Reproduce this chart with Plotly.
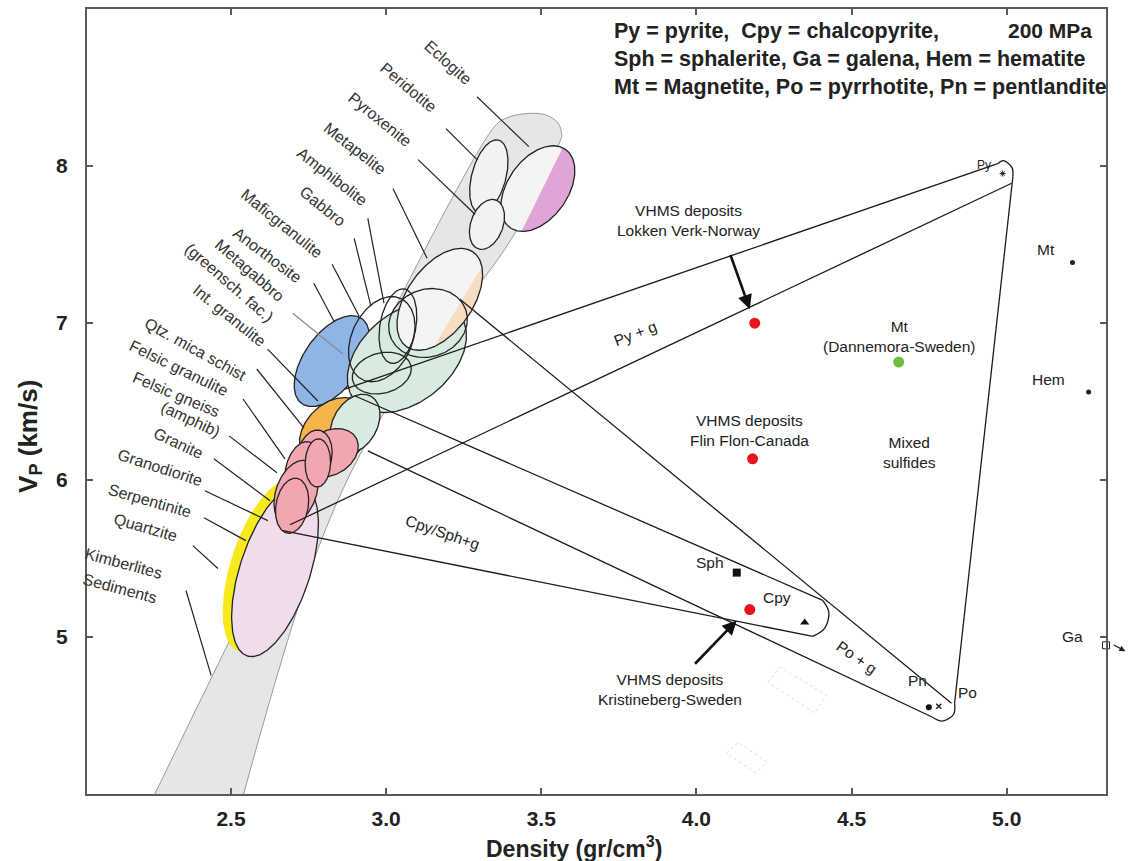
import numpy as np
import plotly.graph_objects as go

# ---------------- axes ----------------
X_RANGE = [2.036, 5.32]
Y_RANGE = [4.0, 9.0]
X_TICKS = [2.5, 3.0, 3.5, 4.0, 4.5, 5.0]
X_TICK_TEXT = ["2.5", "3.0", "3.5", "4.0", "4.5", "5.0"]
Y_TICKS = [5, 6, 7, 8]
Y_TICK_TEXT = ["5", "6", "7", "8"]

VP_PER_RHO = 1.97  # visual aspect used to draw ellipses

# ---------------- crustal / mantle rock trend band ----------------
BAND_RHO = [2.230, 3.344, 3.382, 3.447, 3.512, 3.553, 3.566, 3.560, 3.415, 3.260, 2.997, 2.797, 2.527]
BAND_VP = [3.9, 8.238, 8.301, 8.333, 8.327, 8.276, 8.200, 8.155, 7.571, 7.139, 6.440, 5.646, 3.9]

# ---------------- rock fields (ellipses) ----------------
ROCK_FIELD = ["Quartzite", "Serpentinite", "Anorthosite", "Int. granulite", "Mafic granulite",
              "Metagabbro", "Metapelite", "Eclogite", "Peridotite", "Pyroxenite",
              "Amphibolite", "Gabbro", "Gabbro2", "Mafic2",
              "Qtz. mica schist", "Felsic granulite", "Felsic gneiss", "Granodiorite", "Granite", "Felsic2"]
ROCK_RHO = [2.613, 2.642, 2.825, 2.835, 3.067,
            2.900, 3.173, 3.489, 3.331, 3.325,
            3.038, 3.135, 2.986, 2.986,
            2.819, 2.770, 2.729, 2.710, 2.697, 2.780]
ROCK_VP = [5.455, 5.423, 6.757, 6.300, 6.783,
           6.357, 7.151, 7.856, 7.933, 7.628,
           6.980, 7.000, 6.681, 6.897,
           6.173, 6.154, 6.071, 5.919, 5.836, 6.109]
ROCK_SEMI_MAJOR = [0.290, 0.290, 0.168, 0.129, 0.219,
                   0.103, 0.187, 0.155, 0.122, 0.084,
                   0.122, 0.129, 0.097, 0.145,
                   0.097, 0.084, 0.090, 0.109, 0.090, 0.078]
ROCK_SEMI_MINOR = [0.113, 0.113, 0.090, 0.097, 0.145,
                   0.071, 0.106, 0.097, 0.055, 0.052,
                   0.058, 0.109, 0.065, 0.097,
                   0.071, 0.055, 0.052, 0.065, 0.052, 0.041]
ROCK_TILT = [72, 72, 55, 45, 40,
             60, 55, 55, 75, 70,
             80, 20, 15, 65,
             30, 80, 75, 70, 80, 88]

# coloured parts of fields lying off the trend band (right of the cut line)
CUT_FIELD = ["Eclogite", "Metapelite"]
CUT_RHO0 = [3.566, 3.318]
CUT_VP0 = [8.111, 7.393]
CUT_RHO1 = [3.431, 3.163]
CUT_VP1 = [7.571, 6.884]

# ---------------- mixing lines (rock + sulfide) ----------------
MIX_NAME = ["Py upper", "Py lower", "Py-Po", "Po upper", "Po lower", "Cpy upper", "Cpy lower"]
MIX_RHO0 = [2.867, 2.690, 5.020, 3.238, 2.941, 2.900, 2.667]
MIX_VP0 = [6.579, 5.715, 7.933, 7.151, 6.186, 6.535, 5.677]
MIX_RHO1 = [4.971, 5.016, 4.832, 4.822, 4.761, 4.407, 4.375]
MIX_VP1 = [8.015, 7.890, 4.578, 4.578, 4.489, 5.233, 5.004]

CAP_PY_RHO = [4.971, 4.990, 5.017, 5.020]
CAP_PY_VP = [8.015, 8.034, 7.990, 7.933]
CAP_PO_RHO = [4.832, 4.829, 4.792, 4.761]
CAP_PO_VP = [4.578, 4.508, 4.464, 4.489]
CAP_CPY_RHO = [4.407, 4.427, 4.413, 4.375]
CAP_CPY_VP = [5.233, 5.156, 5.055, 5.004]

# ---------------- minerals ----------------
MINERAL = ["Py", "Mt", "Hem", "Ga", "Sph", "Cpy", "Pn", "Po"]
MINERAL_RHO = [4.987, 5.212, 5.264, 5.320, 4.130, 4.349, 4.749, 4.781]
MINERAL_VP = [7.952, 7.386, 6.560, 4.947, 5.410, 5.093, 4.553, 4.559]

# ---------------- ore deposits ----------------
DEPOSIT = ["Lokken Verk-Norway", "Flin Flon-Canada", "Kristineberg-Sweden", "Dannemora-Sweden"]
DEPOSIT_RHO = [4.188, 4.181, 4.172, 4.652]
DEPOSIT_VP = [6.999, 6.135, 5.175, 6.751]

# ---------------- faint dotted boxes ----------------
BOX1_RHO = [4.230, 4.269, 4.420, 4.381, 4.230]
BOX1_VP = [4.712, 4.807, 4.629, 4.515, 4.712]
BOX2_RHO = [4.097, 4.134, 4.227, 4.191, 4.097]
BOX2_VP = [4.260, 4.330, 4.203, 4.133, 4.260]

# ---------------- rock labels ----------------
LABEL_TEXT = ["Eclogite", "Peridotite", "Pyroxenite", "Metapelite", "Amphibolite", "Gabbro",
              "Maficgranulite", "Anorthosite", "Metagabbro", "(greensch. fac.)", "Int. granulite",
              "Qtz. mica schist", "Felsic granulite", "Felsic gneiss", "(amphib)", "Granite",
              "Granodiorite", "Serpentinite", "Quartzite", "Kimberlites", "Sediments"]
LABEL_RHO = [3.200, 3.073, 2.980, 2.899, 2.825, 2.796, 2.664, 2.619, 2.561, 2.494, 2.494,
             2.387, 2.334, 2.324, 2.371, 2.332, 2.271, 2.236, 2.226, 2.155, 2.142]
LABEL_VP = [8.662, 8.503, 8.295, 8.111, 7.930, 7.743, 7.634, 7.433, 7.335, 7.260, 7.045,
            6.834, 6.712, 6.545, 6.385, 6.230, 6.078, 5.868, 5.696, 5.468, 5.309]
LABEL_ANGLE = [42, 40, 39, 38, 38, 39, 39, 37, 41, 41, 39, 29, 26, 23, 25, 25, 18, 16, 16, 15, 15]

LEADER_RHO0 = [3.293, 3.193, 3.103, 3.022, 2.941, 2.897, 2.826, 2.767, 2.699, 2.618, 2.583,
               2.539, 2.494, 2.445, 2.416, 2.413, 2.377, 2.355]
LEADER_VP0 = [8.441, 8.238, 8.041, 7.856, 7.666, 7.539, 7.374, 7.253, 7.062, 6.834, 6.707,
              6.516, 6.281, 6.135, 5.931, 5.760, 5.582, 5.296]
LEADER_RHO1 = [3.460, 3.293, 3.287, 3.132, 2.993, 2.951, 2.913, 2.832, 2.861, 2.780, 2.735,
               2.674, 2.648, 2.626, 2.619, 2.548, 2.458, 2.436]
LEADER_VP1 = [8.123, 8.041, 7.691, 7.412, 7.126, 7.107, 7.043, 7.011, 6.802, 6.503, 6.332,
              6.135, 6.046, 5.868, 5.741, 5.614, 5.436, 4.756]
LEADER_GREY = [False] * 8 + [True] + [False] * 9

# ---------------- styles ----------------
FONT = "Liberation Sans, Arial, Helvetica, sans-serif"
FIELD_STYLE = {
    "Quartzite": ("#f6ea1e", None),
    "Serpentinite": ("#f1dcee", "#222"),
    "Anorthosite": ("#8fb5e4", "#222"),
    "Int. granulite": ("#f5b44c", "#222"),
    "Mafic granulite": ("#d7ebe1", "#222"),
    "Metagabbro": ("#d7ebe1", "#222"),
    "Metapelite": ("#f4f4f4", "#222"),
    "Eclogite": ("#f4f4f4", "#222"),
    "Peridotite": ("#f2f2f2", "#222"),
    "Pyroxenite": ("#f2f2f2", "#222"),
    "Amphibolite": (None, "#222"),
    "Gabbro": (None, "#222"),
    "Gabbro2": (None, "#222"),
    "Mafic2": (None, "#222"),
    "Qtz. mica schist": ("#f2a6b0", "#222"),
    "Felsic granulite": ("#f2a6b0", "#222"),
    "Felsic gneiss": ("#f2a6b0", "#222"),
    "Granodiorite": ("#f2a6b0", "#222"),
    "Granite": ("#f2a6b0", "#222"),
    "Felsic2": ("#f2a6b0", "#222"),
}
CUT_COLOR = {"Eclogite": "#dfa5d6", "Metapelite": "#f8dcc3"}


def ellipse_pts(cx, cy, a, b, ang, n=240):
    t = np.linspace(0, 2 * np.pi, n)
    th = np.radians(ang)
    u = a * np.cos(t) * np.cos(th) - b * np.sin(t) * np.sin(th)
    w = a * np.cos(t) * np.sin(th) + b * np.sin(t) * np.cos(th)
    return cx + u, cy + VP_PER_RHO * w


def crescent(xs, ys, p0, p1):
    xline = p0[0] + (ys - p0[1]) * (p1[0] - p0[0]) / (p1[1] - p0[1])
    keep = xs > xline
    first_out = int(np.argmin(keep))
    order = np.roll(np.arange(len(xs)), -first_out)
    sel = order[keep[order]]
    return xs[sel], ys[sel]


fig = go.Figure()
LW = 1.3

# band
fig.add_trace(go.Scatter(x=BAND_RHO, y=BAND_VP, mode="lines", fill="toself",
                         fillcolor="#e6e6e6", line=dict(color="#9a9a9a", width=1),
                         line_shape="spline", hoverinfo="skip", showlegend=False))

# rock fields
for i, name in enumerate(ROCK_FIELD):
    xs, ys = ellipse_pts(ROCK_RHO[i], ROCK_VP[i], ROCK_SEMI_MAJOR[i], ROCK_SEMI_MINOR[i], ROCK_TILT[i])
    fill, edge = FIELD_STYLE[name]
    if fill:
        fig.add_trace(go.Scatter(x=xs, y=ys, mode="lines", fill="toself", fillcolor=fill,
                                 line=dict(width=0, color=fill), hoverinfo="skip", showlegend=False))
    if name in CUT_FIELD:
        j = CUT_FIELD.index(name)
        cx, cy = crescent(xs, ys, (CUT_RHO0[j], CUT_VP0[j]), (CUT_RHO1[j], CUT_VP1[j]))
        fig.add_trace(go.Scatter(x=cx, y=cy, mode="lines", fill="toself", fillcolor=CUT_COLOR[name],
                                 line=dict(width=0, color=CUT_COLOR[name]), hoverinfo="skip",
                                 showlegend=False))
    if edge:
        fig.add_trace(go.Scatter(x=xs, y=ys, mode="lines", line=dict(color=edge, width=LW),
                                 hoverinfo="skip", showlegend=False))

# leader lines
for i in range(len(LEADER_RHO0)):
    fig.add_trace(go.Scatter(x=[LEADER_RHO0[i], LEADER_RHO1[i]], y=[LEADER_VP0[i], LEADER_VP1[i]],
                             mode="lines",
                             line=dict(color="#8a8a8a" if LEADER_GREY[i] else "#222", width=1.2),
                             hoverinfo="skip", showlegend=False))

# mixing lines
for i in range(len(MIX_NAME)):
    fig.add_trace(go.Scatter(x=[MIX_RHO0[i], MIX_RHO1[i]], y=[MIX_VP0[i], MIX_VP1[i]], mode="lines",
                             line=dict(color="#1a1a1a", width=LW), hoverinfo="skip", showlegend=False))
for cx, cy in [(CAP_PY_RHO, CAP_PY_VP), (CAP_PO_RHO, CAP_PO_VP), (CAP_CPY_RHO, CAP_CPY_VP)]:
    fig.add_trace(go.Scatter(x=cx, y=cy, mode="lines", line=dict(color="#1a1a1a", width=LW, shape="spline"),
                             hoverinfo="skip", showlegend=False))

# faint boxes
for bx, by in [(BOX1_RHO, BOX1_VP), (BOX2_RHO, BOX2_VP)]:
    fig.add_trace(go.Scatter(x=bx, y=by, mode="lines", line=dict(color="#dddddd", width=1, dash="dot"),
                             hoverinfo="skip", showlegend=False))

# mineral markers
MARKER_STYLE = {
    "Py": dict(symbol="asterisk-open", size=5, color="#222", line=dict(width=1, color="#222")),
    "Mt": dict(symbol="circle", size=5, color="#222"),
    "Hem": dict(symbol="circle", size=5, color="#222"),
    "Ga": dict(symbol="square-open", size=7, color="#222", line=dict(width=1, color="#222")),
    "Sph": dict(symbol="square", size=8, color="#111"),
    "Cpy": dict(symbol="triangle-up", size=8, color="#111"),
    "Pn": dict(symbol="circle", size=6, color="#111"),
    "Po": dict(symbol="x-thin-open", size=5, color="#222", line=dict(width=1.5, color="#222")),
}
for i, m in enumerate(MINERAL):
    fig.add_trace(go.Scatter(x=[MINERAL_RHO[i]], y=[MINERAL_VP[i]], mode="markers",
                             marker=MARKER_STYLE[m], cliponaxis=False, hoverinfo="skip", showlegend=False))

# deposits
DEP_COLOR = ["#e8141c", "#e8141c", "#e8141c", "#6cbf3c"]
fig.add_trace(go.Scatter(x=DEPOSIT_RHO, y=DEPOSIT_VP, mode="markers",
                         marker=dict(size=11, color=DEP_COLOR), hoverinfo="skip", showlegend=False))

ann = []
# rock labels
for i, t in enumerate(LABEL_TEXT):
    ann.append(dict(x=LABEL_RHO[i], y=LABEL_VP[i], text=t, textangle=LABEL_ANGLE[i], showarrow=False,
                    font=dict(size=16, color="#333", family=FONT)))

# notes (data coords)
NOTES = [
    ("VHMS deposits<br>Lokken Verk-Norway", 3.975, 7.653, 0),
    ("Py + g", 3.803, 6.935, -21),
    ("Mt<br>(Dannemora-Sweden)", 4.655, 6.916, 0),
    ("Mt", 5.128, 7.469, 0),
    ("Hem", 5.135, 6.643, 0),
    ("Ga", 5.212, 5.004, 0),
    ("VHMS deposits<br>Flin Flon-Canada", 4.171, 6.313, 0),
    ("Mixed<br>sulfides", 4.687, 6.173, 0),
    ("Cpy/Sph+g", 3.183, 5.665, 19),
    ("Sph", 4.043, 5.474, 0),
    ("Cpy", 4.260, 5.252, 0),
    ("VHMS deposits<br>Kristineberg-Sweden", 3.915, 4.667, 0),
    ("Po + g", 4.517, 4.870, 35),
    ("Pn", 4.711, 4.724, 0),
    ("Po", 4.874, 4.648, 0),
    ("Py", 4.926, 8.009, 0),
]
for t, x, y, a in NOTES:
    ann.append(dict(x=x, y=y, text=t, textangle=a, showarrow=False,
                    font=dict(size=12 if t == "Py" else 15.5, color="#222", family=FONT)))

# arrows
for hx, hy, tx, ty in [(4.172, 7.088, 4.108, 7.443), (4.130, 5.105, 3.991, 4.820)]:
    ann.append(dict(x=hx, y=hy, ax=tx, ay=ty, xref="x", yref="y", axref="x", ayref="y", text="",
                    showarrow=True, arrowhead=2, arrowsize=1.1, arrowwidth=2.6, arrowcolor="#111"))
# Ga lies beyond the axis: small pointer outwards
ann.append(dict(x=1.019, y=0.182, xref="paper", yref="paper", ax=-13, ay=-7, text="",
                showarrow=True, arrowhead=2, arrowsize=1, arrowwidth=1.2, arrowcolor="#222"))

# header text
HEADER = ["Py = pyrite,  Cpy = chalcopyrite,",
          "Sph = sphalerite, Ga = galena, Hem = hematite",
          "Mt = Magnetite, Po = pyrrhotite, Pn = pentlandite"]
for t, yy in zip(HEADER, [0.972, 0.936, 0.900]):
    ann.append(dict(x=0.515, y=yy, xref="paper", yref="paper", text=t, showarrow=False,
                    xanchor="left", yanchor="middle",
                    font=dict(size=21.5, color="#222", family=FONT, weight="bold")))
ann.append(dict(x=0.988, y=0.972, xref="paper", yref="paper", text="200 MPa", showarrow=False,
                xanchor="right", yanchor="middle",
                font=dict(size=21, color="#222", family=FONT, weight="bold")))

# axis titles
ann.append(dict(x=0.478, y=-0.068, xref="paper", yref="paper", text="Density (gr/cm<sup>3</sup>)",
                showarrow=False, xanchor="center", yanchor="middle",
                font=dict(size=23, color="#222", family=FONT, weight="bold")))
ann.append(dict(x=-0.057, y=0.456, xref="paper", yref="paper", text="V<sub>P</sub> (km/s)",
                textangle=-90, showarrow=False, xanchor="center", yanchor="middle",
                font=dict(size=26, color="#222", family=FONT, weight="bold")))

axis_common = dict(showgrid=False, zeroline=False, showline=True, linecolor="#5a5a5a", linewidth=2,
                   ticks="inside", ticklen=6, tickwidth=1.5, tickcolor="#5a5a5a", mirror="ticks",
                   tickfont=dict(size=21, color="#222", family=FONT, weight="bold"))

fig.update_layout(
    width=1128, height=861,
    margin=dict(l=87, r=22, t=7, b=67),
    plot_bgcolor="white", paper_bgcolor="white",
    showlegend=False,
    font=dict(family=FONT, color="#222"),
    xaxis=dict(range=X_RANGE, tickvals=X_TICKS, ticktext=X_TICK_TEXT, ticklabelstandoff=5, **axis_common),
    yaxis=dict(range=Y_RANGE, tickvals=Y_TICKS, ticktext=Y_TICK_TEXT, ticklabelstandoff=13, **axis_common),
    annotations=ann,
)

fig.write_html("out.html")
